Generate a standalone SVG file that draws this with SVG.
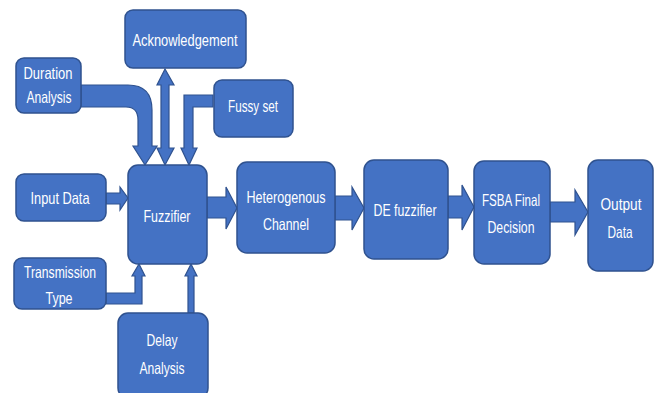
<svg xmlns="http://www.w3.org/2000/svg" width="657" height="393" viewBox="0 0 657 393">
<style>
.n{fill:#4472C4;stroke:#2F528F;stroke-width:1.5}
.a{fill:#4472C4;stroke:#2F528F;stroke-width:1.2;stroke-linejoin:miter}
.t{fill:#fff;font-family:"Liberation Sans",Arial,sans-serif;font-size:16.5px;text-anchor:middle}
</style>
<rect width="657" height="393" fill="#fff"/>
<g id="connectors">
<path class="a" d="M207,197 H226 V187 L237,208 L226,229 V218 H207 Z"/>
<path class="a" d="M106,193 H120 V187 L128,198 L120,210 V204 H106 Z"/>
<path class="a" d="M335,196 H352 V187 L364,208 L352,230 V220 H335 Z"/>
<path class="a" d="M448,196 H462 V185 L474,207 L462,230 V218 H448 Z"/>
<path class="a" d="M550,202 H575 V190 L588,212 L575,235 V222 H550 Z"/>
<path class="a" d="M81,85 H128 Q152,85 152,110 V146 H157 L145,165 L133,146 H138 V120 Q138,107 126,107 H81 Z"/>
<path class="a" d="M165,69 L174,85 H169 V148 H174 L165,165 L157,148 H161 V85 H157 Z"/>
<path class="a" d="M213,95 H184 V148 H181 L189,165 L197,148 H193 V107 H213 Z"/>
<path class="a" d="M106,293 H135 V276 H132 L139,264 L145,276 H142 V304 H106 Z"/>
<path class="a" d="M188,313 V276 H185 L191,264 L197,276 H194 V313 Z"/>
</g>
<g id="acknowledgement"><rect class="n" x="125" y="10" width="121" height="58" rx="8"/><text class="t" x="185" y="46" textLength="105" lengthAdjust="spacingAndGlyphs">Acknowledgement</text></g>
<g id="duration-analysis"><rect class="n" x="16" y="58" width="65" height="55" rx="8"/><text class="t" x="48" y="79" textLength="49" lengthAdjust="spacingAndGlyphs">Duration</text><text class="t" x="49" y="103" textLength="45" lengthAdjust="spacingAndGlyphs">Analysis</text></g>
<g id="fussy-set"><rect class="n" x="214" y="80" width="79" height="57" rx="8"/><text class="t" x="253" y="112" textLength="50" lengthAdjust="spacingAndGlyphs">Fussy set</text></g>
<g id="input-data"><rect class="n" x="16" y="174" width="90" height="47" rx="8"/><text class="t" x="60" y="204" textLength="59" lengthAdjust="spacingAndGlyphs">Input Data</text></g>
<g id="fuzzifier"><rect class="n" x="128" y="165" width="79" height="99" rx="10"/><text class="t" x="167" y="222" textLength="47" lengthAdjust="spacingAndGlyphs">Fuzzifier</text></g>
<g id="transmission-type"><rect class="n" x="14" y="258" width="92" height="51" rx="8"/><text class="t" x="60" y="278" textLength="72" lengthAdjust="spacingAndGlyphs">Transmission</text><text class="t" x="59" y="304" textLength="27" lengthAdjust="spacingAndGlyphs">Type</text></g>
<g id="delay-analysis"><rect class="n" x="118" y="313" width="90" height="85" rx="10"/><text class="t" x="162" y="346" textLength="31" lengthAdjust="spacingAndGlyphs">Delay</text><text class="t" x="162" y="374" textLength="45" lengthAdjust="spacingAndGlyphs">Analysis</text></g>
<g id="heterogenous-channel"><rect class="n" x="237" y="162" width="98" height="91" rx="10"/><text class="t" x="286" y="203" textLength="79" lengthAdjust="spacingAndGlyphs">Heterogenous</text><text class="t" x="286" y="230" textLength="46" lengthAdjust="spacingAndGlyphs">Channel</text></g>
<g id="de-fuzzifier"><rect class="n" x="364" y="160" width="84" height="99" rx="10"/><text class="t" x="405" y="216" textLength="63" lengthAdjust="spacingAndGlyphs">DE fuzzifier</text></g>
<g id="fsba-final-decision"><rect class="n" x="474" y="161" width="76" height="103" rx="10"/><text class="t" x="511" y="206" textLength="58" lengthAdjust="spacingAndGlyphs">FSBA Final</text><text class="t" x="511" y="233" textLength="47" lengthAdjust="spacingAndGlyphs">Decision</text></g>
<g id="output-data"><rect class="n" x="588" y="160" width="65" height="111" rx="10"/><text class="t" x="621" y="210" textLength="41" lengthAdjust="spacingAndGlyphs">Output</text><text class="t" x="620" y="238" textLength="25" lengthAdjust="spacingAndGlyphs">Data</text></g>
</svg>
